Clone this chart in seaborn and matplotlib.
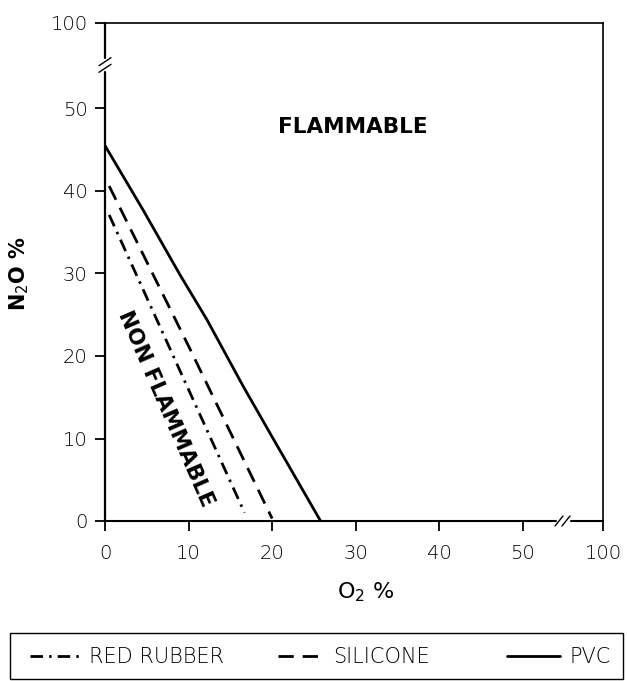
import numpy as np
import pandas as pd
import seaborn as sns
import matplotlib
matplotlib.use("Agg")
import matplotlib.pyplot as plt
from matplotlib.lines import Line2D
from matplotlib.patches import Rectangle

# ---- data ----
pvc_o2 = [0.0, 4.5, 9.0, 12.2, 16.5, 20.0, 25.8]
pvc_n2o = [45.5, 37.8, 29.8, 24.4, 16.4, 10.2, 0.0]
sil_o2 = [0.5, 10.1, 20.0]
sil_n2o = [40.6, 21.0, 0.3]
rr_o2 = [0.5, 7.5, 16.7]
rr_n2o = [37.1, 21.5, 1.0]
materials = ["RED RUBBER", "SILICONE", "PVC"]
x_ticks = [0, 10, 20, 30, 40, 50, 100]
y_ticks = [0, 10, 20, 30, 40, 50, 100]

df = pd.concat([
    pd.DataFrame({"o2": rr_o2, "n2o": rr_n2o, "material": "RED RUBBER"}),
    pd.DataFrame({"o2": sil_o2, "n2o": sil_n2o, "material": "SILICONE"}),
    pd.DataFrame({"o2": pvc_o2, "n2o": pvc_n2o, "material": "PVC"}),
], ignore_index=True)

sns.set_style("ticks")
plt.rcParams["font.family"] = ["DejaVu Sans"]
plt.rcParams["text.color"] = "black"
plt.rcParams["axes.labelcolor"] = "black"

fig = plt.figure(figsize=(6.27, 6.81), dpi=100)
AXW, AXH = 498.0, 498.3
ax = fig.add_axes([105 / 627, 1 - 521 / 681, AXW / 627, AXH / 681])


# broken axes: compress range 55..100 into a short segment
def make_fns(k):
    def fwd(v):
        v = np.asarray(v, dtype=float)
        return np.where(v <= 55, v, 55 + (v - 55) * k)

    def inv(t):
        t = np.asarray(t, dtype=float)
        return np.where(t <= 55, t, 55 + (t - 55) / k)
    return fwd, inv


ax.set_xscale("function", functions=make_fns(4.6 / 45))
ax.set_yscale("function", functions=make_fns(5.4 / 45))

dash_map = {"RED RUBBER": (4.5, 2.2, 0.9, 2.2), "SILICONE": (5.5, 3.2), "PVC": ""}
LW = 2.0
sns.lineplot(data=df, x="o2", y="n2o", hue="material", style="material",
             hue_order=materials, style_order=materials,
             palette={m: "black" for m in materials}, dashes=dash_map,
             sort=False, estimator=None, linewidth=LW, ax=ax, legend=False)

ax.set_xlim(0, 100)
ax.set_ylim(0, 100)
ax.set_xticks(x_ticks)
ax.set_yticks(y_ticks)
ax.set_xticklabels([str(t) for t in x_ticks])
ax.set_yticklabels([str(t) for t in y_ticks])
ax.tick_params(axis="both", direction="out", length=7.5, width=1.3, colors="black",
               labelsize=14, labelcolor="black")
ax.tick_params(axis="y", pad=5)
ax.tick_params(axis="x", pad=9)
for lab in ax.get_xticklabels() + ax.get_yticklabels():
    lab.set_fontweight("light")

for s in ["top", "right"]:
    ax.spines[s].set_linewidth(1.2)
    ax.spines[s].set_color("black")
ax.spines["left"].set_visible(False)
ax.spines["bottom"].set_visible(False)

# left spine with break
yb_lo, yb_hi = (521 - 72) / AXH, (521 - 58) / AXH
ax.plot([0, 0], [0, yb_lo], color="black", lw=1.6, transform=ax.transAxes, clip_on=False)
ax.plot([0, 0], [yb_hi, 1], color="black", lw=1.6, transform=ax.transAxes, clip_on=False)
for yc in [(521 - 68.3) / AXH, (521 - 61.7) / AXH]:
    ax.plot([-6 / AXW, 6 / AXW], [yc - 4 / AXH, yc + 4 / AXH], color="black",
            lw=1.0, transform=ax.transAxes, clip_on=False)
# bottom spine with break
xb_lo, xb_hi = (556 - 105) / AXW, (571 - 105) / AXW
ax.plot([0, xb_lo], [0, 0], color="black", lw=1.5, transform=ax.transAxes, clip_on=False)
ax.plot([xb_hi, 1], [0, 0], color="black", lw=1.5, transform=ax.transAxes, clip_on=False)
for xc in [(559 - 105) / AXW, (566 - 105) / AXW]:
    ax.plot([xc - 4 / AXW, xc + 4 / AXW], [-5 / AXH, 5 / AXH], color="black",
            lw=1.0, transform=ax.transAxes, clip_on=False)

ax.set_xlabel("O$_2$ %", fontsize=16, color="black")
ax.xaxis.set_label_coords((366 - 105) / AXW, (521 - 580) / AXH)
ax.set_ylabel("N$_2$O %", fontsize=15, fontweight="bold", color="black")
ax.yaxis.set_label_coords((31 - 105) / AXW, (521 - 274) / AXH)

ax.text(29.7, 47.8, "FLAMMABLE", fontsize=15.5, fontweight="bold",
        ha="center", va="center")
ax.text(7.3, 13.6, "NON FLAMMABLE", fontsize=15.5, fontweight="bold",
        ha="center", va="center", rotation=-66.5, rotation_mode="anchor")

# legend: frame + one entry per material at the reference positions
fig.add_artist(Rectangle((10 / 627, 2 / 681), 613 / 627, 46 / 681,
                         transform=fig.transFigure, fill=False,
                         edgecolor="black", linewidth=1.0))
handles = [Line2D([], [], color="black", lw=LW, dashes=dash_map["RED RUBBER"]),
           Line2D([], [], color="black", lw=LW, dashes=dash_map["SILICONE"]),
           Line2D([], [], color="black", lw=LW)]
starts = [30, 278, 507]
hlens = [2.4, 2.2, 2.55]
for h, lab, x0, hl in zip(handles, materials, starts, hlens):
    leg = fig.legend([h], [lab], loc="center left",
                     bbox_to_anchor=(x0 / 627, 1 - 657 / 681),
                     frameon=False, fontsize=15, handlelength=hl, handletextpad=0.45,
                     borderpad=0, borderaxespad=0)
    for t in leg.get_texts():
        t.set_fontweight("light")

fig.savefig("out.png", dpi=100, facecolor="white")
